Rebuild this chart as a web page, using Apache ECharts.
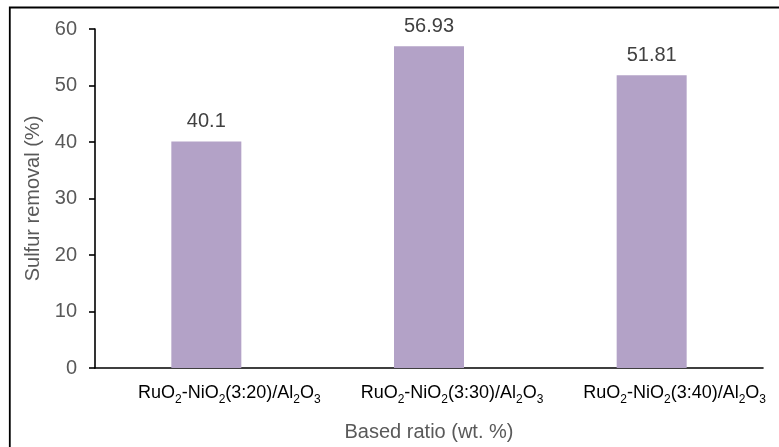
<!DOCTYPE html>
<html>
<head>
<meta charset="utf-8">
<script src="https://cdn.jsdelivr.net/npm/echarts@6/dist/echarts.min.js"></script>
<style>html,body{margin:0;padding:0;background:#fff;}#c{width:779px;height:447px;}</style>
</head>
<body>
<div id="c"></div>
<script>
var categories = ['RuO{s|2}-NiO{s|2}(3:20)/Al{s|2}O{s|3}', 'RuO{s|2}-NiO{s|2}(3:30)/Al{s|2}O{s|3}', 'RuO{s|2}-NiO{s|2}(3:40)/Al{s|2}O{s|3}'];
var sulfurRemoval = [40.1, 56.93, 51.81];
var valueLabels = ['40.1', '56.93', '51.81'];
var yTicks = [0, 10, 20, 30, 40, 50, 60];

var FONT = '"Liberation Sans", Arial, sans-serif';
var chart = echarts.init(document.getElementById('c'), null, {renderer: 'canvas'});
chart.setOption({
  animation: false,
  backgroundColor: '#fff',
  grid: {left: 95, right: 16, top: 29, bottom: 78, containLabel: false},
  graphic: [{
    type: 'rect', silent: true, z: 100,
    shape: {x: 9.8, y: 7.5, width: 1000, height: 1000},
    style: {fill: 'none', stroke: '#000', lineWidth: 1.8}
  }],
  xAxis: {
    type: 'category',
    data: categories,
    name: 'Based ratio (wt. %)',
    nameLocation: 'middle',
    nameGap: 54,
    nameTextStyle: {fontFamily: FONT, fontSize: 20, color: '#595959'},
    axisLine: {show: true, lineStyle: {color: '#000', width: 1.6}},
    axisTick: {show: false},
    axisLabel: {
      interval: 0, margin: 16, color: '#000', fontFamily: FONT, fontSize: 18,
      padding: [0, 0, 0, 46],
      rich: {
        s: {fontFamily: FONT, fontSize: 12, lineHeight: 12, padding: [10, 0, 0, 0], verticalAlign: 'top', color: '#000'}
      }
    },
    splitLine: {show: false}
  },
  yAxis: {
    type: 'value',
    min: yTicks[0], max: yTicks[yTicks.length - 1], interval: 10,
    name: 'Sulfur removal (%)',
    nameLocation: 'middle',
    nameGap: 50,
    nameRotate: 90,
    nameTextStyle: {fontFamily: FONT, fontSize: 20, color: '#595959'},
    axisLine: {show: true, lineStyle: {color: '#000', width: 1.6}},
    axisTick: {show: true, inside: false, length: 6, lineStyle: {color: '#000', width: 1.6}},
    axisLabel: {margin: 18, color: '#595959', fontFamily: FONT, fontSize: 20},
    splitLine: {show: false}
  },
  series: [{
    type: 'bar',
    data: sulfurRemoval,
    barWidth: 70,
    itemStyle: {color: '#B3A2C7'},
    label: {
      show: true, position: 'top', distance: 10,
      color: '#404040', fontFamily: FONT, fontSize: 20,
      formatter: function (p) { return valueLabels[p.dataIndex]; }
    }
  }]
});
</script>
</body>
</html>
